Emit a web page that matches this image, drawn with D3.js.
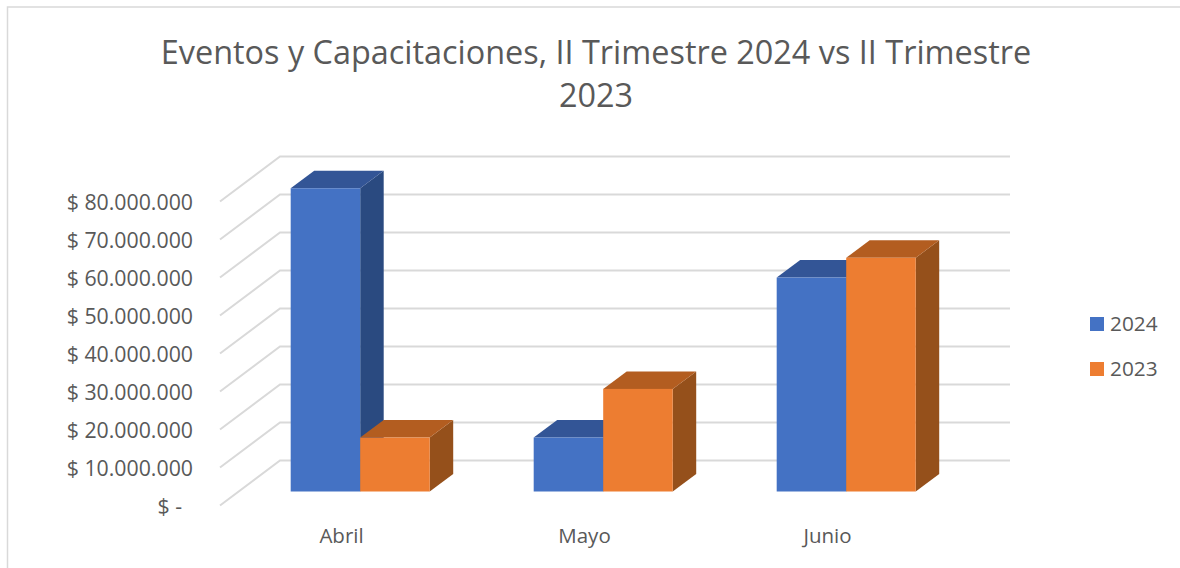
<!DOCTYPE html>
<html><head><meta charset="utf-8">
<script src="https://cdn.jsdelivr.net/npm/d3@7"></script>
<style>html,body{margin:0;padding:0;background:#fff;overflow:hidden}svg{display:block}text{font-family:"Open Sans",sans-serif;fill:#595959}</style>
</head><body><svg id="c" width="1180" height="568"></svg>
<script>
const categories = ["Abril","Mayo","Junio"];
const seriesNames = ["2024","2023"];
const values2024 = [79800000,14200000,56300000];
const values2023 = [14200000,27000000,61500000];
const titleLines = ["Eventos y Capacitaciones, II Trimestre 2024 vs II Trimestre","2023"];
const tickValues = [0,10000000,20000000,30000000,40000000,50000000,60000000,70000000,80000000];
const colors = {"2024":{front:"#4472c4",top:"#335596",side:"#2a4a80"},"2023":{front:"#ed7d31",top:"#b35d20",side:"#95501b"}};

const svg = d3.select("#c");
const fmt = v => v===0 ? "$ -" : "$ " + d3.format(",")(v).replace(/,/g,".");
const floorDX = 60, floorDY = -45;          // plot depth
const barNearDX = 18.7, barNearDY = -14;    // near face of bars within depth
const barDX = 23.5, barDY = -17.5;          // bar depth

const y = d3.scaleLinear().domain([0,80000000]).range([505.5,201.5]);
const x = d3.scaleBand().domain(categories).range([220,949]).paddingInner(0).paddingOuter(0);
const inner = d3.scaleBand().domain(seriesNames).range([0,x.bandwidth()]).paddingOuter(0.748).paddingInner(0);

// frame
svg.append("path").attr("d","M1180,7H7.5V568").attr("fill","none").attr("stroke","#d9d9d9").attr("stroke-width",1.5);

// gridlines
const grid = svg.append("g").attr("fill","none").attr("stroke","#d9d9d9").attr("stroke-width",2);
tickValues.forEach(v=>{
  grid.append("path").attr("d",d3.line()([[220,y(v)],[220+floorDX,y(v)+floorDY],[1010,y(v)+floorDY]]));
});

// y axis
const yAxis = d3.axisLeft(y).tickValues(tickValues).tickSize(0).tickPadding(0).tickFormat(fmt);
const ga = svg.append("g").attr("transform","translate(193,1)").call(yAxis);
ga.select(".domain").remove();
ga.selectAll("text").attr("font-size",21.3).style("font-family",'"Open Sans",sans-serif').attr("fill","#595959").attr("x",d=>d===0?-11:0);

// x axis
const xAxis = d3.axisBottom(x).tickSize(0).tickPadding(0);
const gx = svg.append("g").attr("transform","translate(0,528)").call(xAxis);
gx.select(".domain").remove();
gx.selectAll("text").attr("font-size",20.5).style("font-family",'"Open Sans",sans-serif').attr("fill","#595959").attr("dy","0.71em");

// bars
const bars = svg.append("g");
const series = [{name:"2024",vals:values2024},{name:"2023",vals:values2023}];
categories.forEach((c,i)=>{
  series.forEach(s=>{
    const col = colors[s.name];
    const x0 = x(c)+inner(s.name)+barNearDX, x1 = x0+inner.bandwidth();
    const yb = y(0)+barNearDY, yt = y(s.vals[i])+barNearDY;
    const g = bars.append("g");
    g.append("path").attr("fill",col.side).attr("d",d3.line()([[x1,yb],[x1+barDX,yb+barDY],[x1+barDX,yt+barDY],[x1,yt]])+"Z");
    g.append("path").attr("fill",col.top).attr("d",d3.line()([[x0,yt],[x0+barDX,yt+barDY],[x1+barDX,yt+barDY],[x1,yt]])+"Z");
    g.append("rect").attr("fill",col.front).attr("x",x0).attr("y",yt).attr("width",x1-x0).attr("height",yb-yt);
  });
});

// title
const t = svg.append("text").attr("text-anchor","middle").attr("font-size",32.4);
titleLines.forEach((l,i)=>t.append("tspan").attr("x",596).attr("y",64+i*43).text(l));

// legend
const ly = d3.scalePoint().domain(seriesNames).range([324,369]);
seriesNames.forEach(n=>{
  svg.append("rect").attr("x",1090).attr("y",ly(n)-7).attr("width",14).attr("height",14).attr("fill",colors[n].front);
  svg.append("text").attr("x",1110).attr("y",ly(n)).attr("dy","0.35em").attr("font-size",20.8).text(n);
});
</script></body></html>
